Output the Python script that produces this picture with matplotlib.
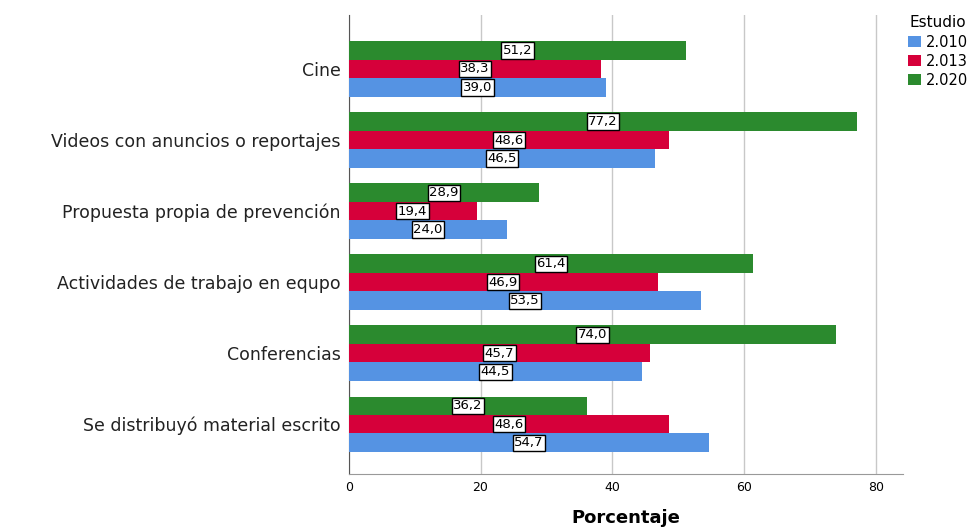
import numpy as np
import matplotlib
matplotlib.use('Agg')
import matplotlib.pyplot as plt

plt.rcParams['font.family'] = ['DejaVu Sans']

#categories from top to bottom
categorias = ['Cine', 'Videos con anuncios o reportajes', 'Propuesta propia de prevención',
              'Actividades de trabajo en equpo', 'Conferencias', 'Se distribuyó material escrito']
v2010 = [39.0, 46.5, 24.0, 53.5, 44.5, 54.7]
v2013 = [38.3, 48.6, 19.4, 46.9, 45.7, 48.6]
v2020 = [51.2, 77.2, 28.9, 61.4, 74.0, 36.2]
series = ['2.010', '2.013', '2.020']
colores = ['#5593E3', '#D6003A', '#2B8A2E']

fig = plt.figure(figsize=(9.77, 5.27), dpi=100)
ax = fig.add_axes([0.357, 0.1006, 0.567, 0.871])

y = np.arange(len(categorias))
h = 0.26
#green on top, then red, then blue
offsets = [h, 0, -h]
valores = [v2010, v2013, v2020]
barras = []
for vals, off, col, nom in zip(valores, offsets, colores, series):
    b = ax.barh(y + off, vals, height=h, color=col, label=nom, zorder=3)
    barras.append(b)
    for yy, v in zip(y + off, vals):
        ax.text(v / 2, yy, ('%.1f' % v).replace('.', ','), ha='center', va='center',
                fontsize=9.5, zorder=4,
                bbox=dict(boxstyle='square,pad=0.12', fc='white', ec='black', lw=1.0))

ax.set_ylim(5.70, -0.76)
ax.set_xlim(0, 84.1)
ax.set_yticks(y)
ax.set_yticklabels(categorias, fontsize=12.5, color='#222222')
ax.set_xticks([0, 20, 40, 60, 80])
ax.tick_params(axis='x', labelsize=9, length=0, pad=5)
ax.tick_params(axis='y', length=0, pad=6)
ax.grid(axis='x', color='#c8c8c8', lw=1, zorder=0)
for s in ['top', 'right']:
    ax.spines[s].set_visible(False)
ax.spines['left'].set_color('#555555')
ax.spines['bottom'].set_color('#999999')
ax.set_xlabel('Porcentaje', fontsize=13, fontweight='bold', labelpad=11)

leg = fig.legend(handles=barras, labels=series, title='Estudio', loc='upper left',
                 bbox_to_anchor=(0.919, 0.99), frameon=False, fontsize=10.5,
                 title_fontsize=11, handlelength=0.9, handleheight=0.8,
                 handletextpad=0.35, labelspacing=0.28, borderpad=0.2)

fig.savefig('out.png', dpi=100)
